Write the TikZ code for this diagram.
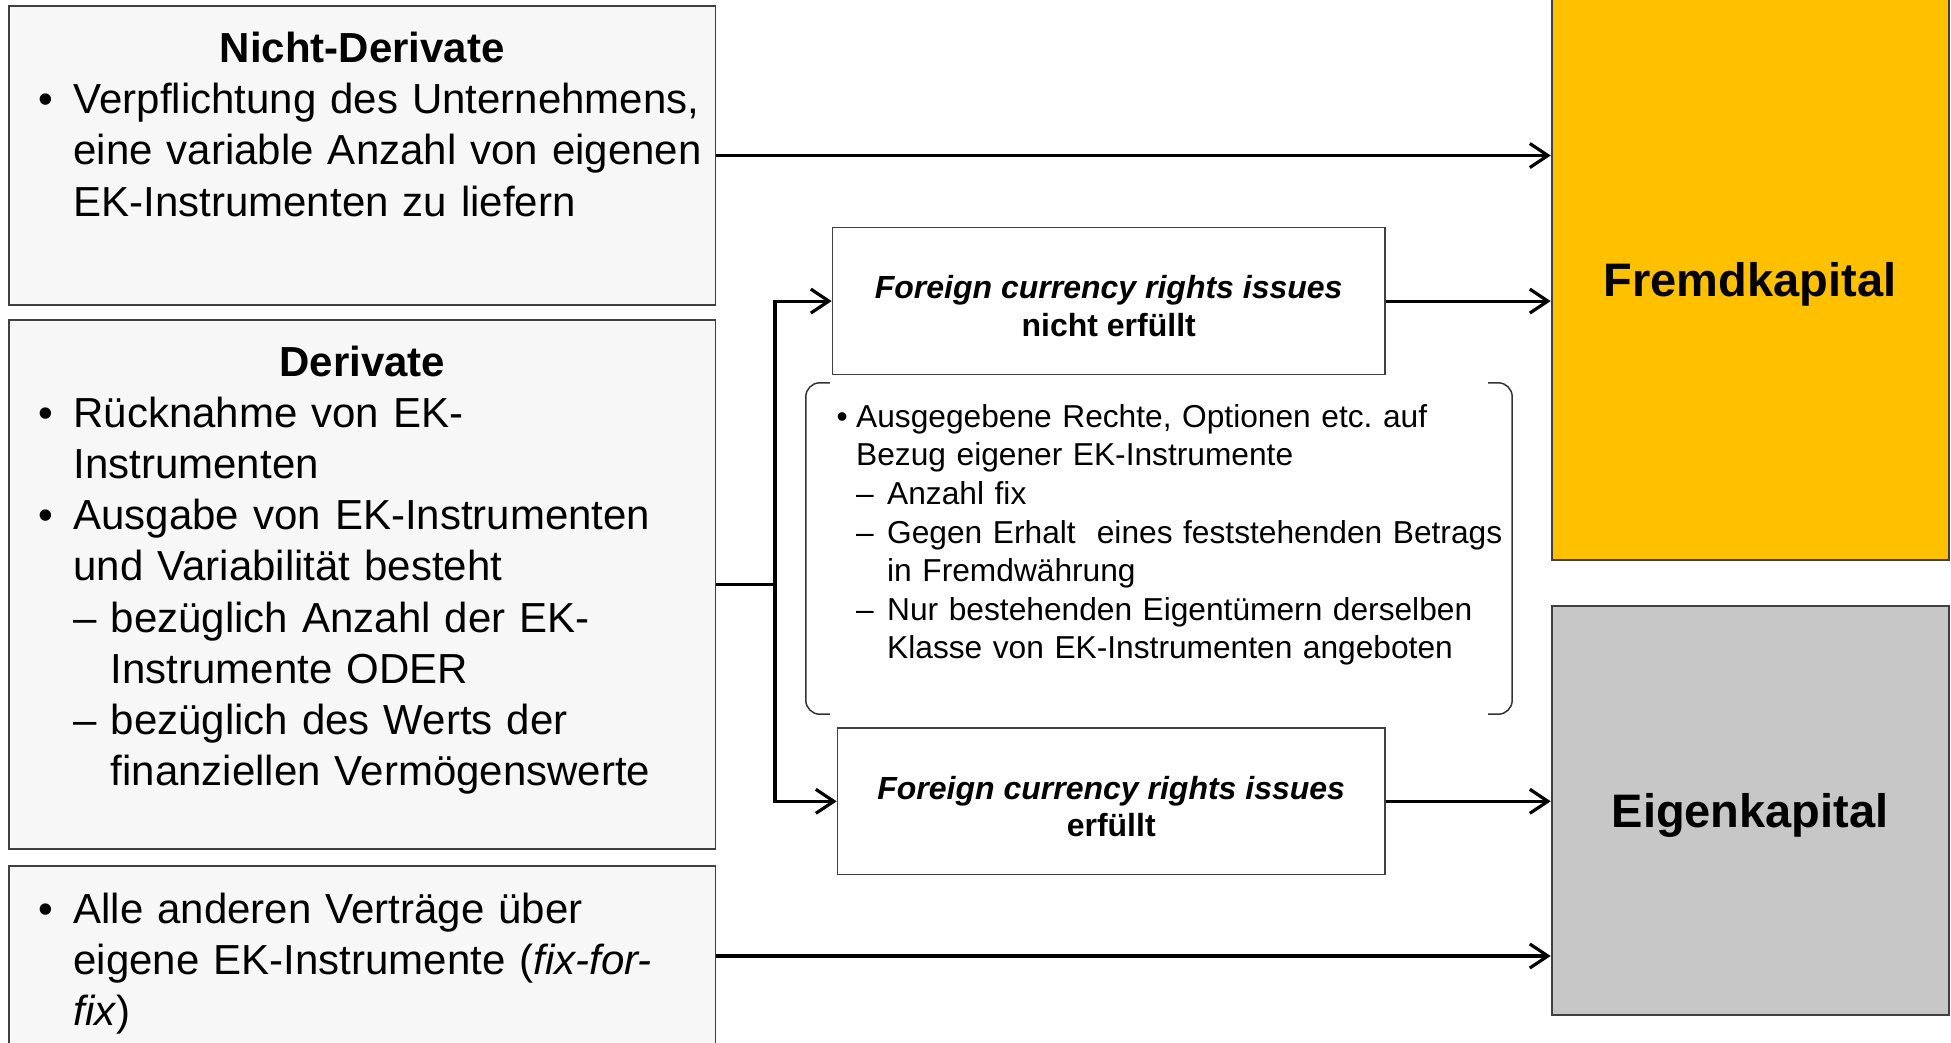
\documentclass[tikz,border=0pt]{standalone}
\usepackage{fontspec}
\setmainfont{Liberation Sans}
\usetikzlibrary{arrows.meta, positioning}
\frenchspacing
\def\NichtDerivate{Nicht-Derivate}
\def\Derivate{Derivate}
\def\Fremd{Fremdkapital}
\def\Eigen{Eigenkapital}
\def\FCRI{\rule{0pt}{33.5pt}\textbf{\textit{Foreign currency rights issues}}}
\newcommand\bul{\makebox[34.8pt][l]{\textbullet}}
\newcommand\ind{\hspace*{34.8pt}}
\newcommand\dsh{\makebox[37.3pt][l]{–}}
\newcommand\bulb{\makebox[19.6pt][l]{\textbullet}}
\newcommand\indb{\hspace*{19.6pt}}
\newcommand\dshb{\makebox[31pt][l]{–}}

\begin{document}
\begin{tikzpicture}[x=1pt, y=-1pt,
    leftbox/.style={draw=black!75, fill=black!3, line width=1.8pt, inner sep=0pt, minimum width=706.8pt},
    leftfont/.style={font=\fontsize{42}{51.2}\selectfont},
    bodytext/.style={anchor=north west, inner sep=0pt, text width=720pt, align=left},
    midbox/.style={draw=black!75, fill=white, line width=1.5pt, minimum height=146.8pt,
        align=center, font=\fontsize{32}{37.4}\selectfont},
    kapital/.style={draw=black!75, line width=1.8pt, minimum width=397pt, text depth=0pt,
        font=\fontsize{47}{56}\selectfont\bfseries},
    bracket/.style={draw=black!80, line width=1.5pt, rounded corners=14pt},
    line/.style={line width=3.2pt},
    arr/.style={line width=3.2pt, -{Straight Barb[length=18pt, width=24pt]}}]
\useasboundingbox (0,0) rectangle (1951,1043);

% linke Spalte
\node (nd) [leftbox, minimum height=298.7pt] at (362.1,155.55) {};
\node (deriv) [leftbox, minimum height=528.8pt] at (362.1,584.2) {};
\node (rest) [leftbox, minimum height=180pt] at (362.1,956) {};

\node (ndtxt) [bodytext, leftfont] at (38.6,27.3) {\noindent\rule{0pt}{35pt}\makebox[647pt][c]{\bfseries\NichtDerivate}\\
    \bul Verpflichtung des Unternehmens,\\
    \ind eine variable Anzahl von eigenen\\
    \ind EK-Instrumenten zu liefern};
\node (derivtxt) [bodytext, leftfont] at (38.6,340.8) {\noindent\rule{0pt}{35pt}\makebox[647pt][c]{\bfseries\Derivate}\\
    \bul Rücknahme von EK-\\
    \ind Instrumenten\\
    \bul Ausgabe von EK-Instrumenten\\
    \ind und Variabilität besteht\\
    \ind\dsh bezüglich Anzahl der EK-\\
    \hspace*{72.1pt}Instrumente ODER\\
    \ind\dsh bezüglich des Werts der\\
    \hspace*{72.1pt}finanziellen Vermögenswerte};
\node (resttxt) [bodytext, leftfont] at (38.6,888) {\noindent\rule{0pt}{35pt}\bul Alle anderen Verträge über\\
    \ind eigene EK-Instrumente (\textit{fix-for-}\\
    \ind\textit{fix})};

% Mitte
\node (fcn) [midbox, minimum width=552.5pt] at (1108.7,301.1) {\FCRI\\ \textbf{nicht erfüllt}};
\node (fce) [midbox, minimum width=547.5pt] at (1111.2,801.3) {\FCRI\\ \textbf{erfüllt}};

\node (brk) [minimum width=706pt, minimum height=331pt] at (1159,548.5) {};
\draw[bracket] ([xshift=24pt]brk.north west) -- (brk.north west) -- (brk.south west) -- ([xshift=24pt]brk.south west);
\draw[bracket] ([xshift=-24pt]brk.north east) -- (brk.north east) -- (brk.south east) -- ([xshift=-24pt]brk.south east);
\node (brktxt) [bodytext, font=\fontsize{31.7}{38.6}\selectfont] at (836.4,400) {\noindent\rule{0pt}{27pt}\bulb Ausgegebene Rechte, Optionen etc. auf\\
    \indb Bezug eigener EK-Instrumente\\
    \indb\dshb Anzahl fix\\
    \indb\dshb Gegen Erhalt\ \ eines feststehenden Betrags\\
    \hspace*{50.6pt}in Fremdwährung\\
    \indb\dshb Nur bestehenden Eigentümern derselben\\
    \hspace*{50.6pt}Klasse von EK-Instrumenten angeboten};

% rechte Spalte
\node (fk) [kapital, fill={rgb,255:red,255;green,192;blue,0}, minimum height=562pt] at (1750.1,279) {\Fremd};
\node (ek) [kapital, fill=black!22, minimum height=409pt] at (1750.1,810.5) {\Eigen};

% Pfeile
\coordinate (jn) at (775,584.2);
\draw[line] (deriv.east) -- (jn);
\draw[arr] (jn) |- (fcn.west);
\draw[arr] (jn) |- (fce.west);
\draw[arr] (nd.east) -- (nd.east -| fk.west);
\draw[arr] (fcn.east) -- (fcn.east -| fk.west);
\draw[arr] (fce.east) -- (fce.east -| ek.west);
\draw[arr] (rest.east) -- (rest.east -| ek.west);
\end{tikzpicture}
\end{document}
